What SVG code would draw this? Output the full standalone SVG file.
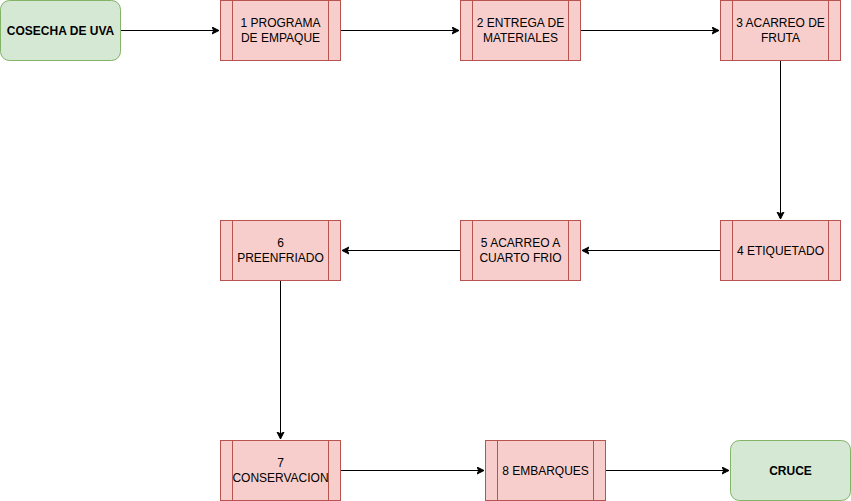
<svg xmlns="http://www.w3.org/2000/svg" width="851" height="501" viewBox="0 0 851 501">
<defs>
<style>
.g{fill:#d5e8d4;stroke:#82b366;stroke-width:1}
.r{fill:#f8cecc;stroke:#b85450;stroke-width:1}
.t{font-family:"Liberation Sans",Arial,sans-serif;font-size:12px;fill:#000;text-anchor:middle}
.b{font-weight:bold}
.e{fill:none;stroke:#000;stroke-width:1}
</style>
<marker id="a" markerWidth="10" markerHeight="10" refX="7" refY="4" orient="auto" markerUnits="userSpaceOnUse">
<path d="M7,4 L0,0.5 L1.75,4 L0,7.5 Z" fill="#000" stroke="#000" stroke-width="1"/>
</marker>
</defs>
<g id="edges">
<path class="e" d="M120.5,30.5 H219" marker-end="url(#a)"/>
<path class="e" d="M340.5,30.5 H459" marker-end="url(#a)"/>
<path class="e" d="M580.5,30.5 H719" marker-end="url(#a)"/>
<path class="e" d="M780.5,60.5 V219" marker-end="url(#a)"/>
<path class="e" d="M720.5,250.5 H582" marker-end="url(#a)"/>
<path class="e" d="M460.5,250.5 H342" marker-end="url(#a)"/>
<path class="e" d="M280.5,280.5 V439" marker-end="url(#a)"/>
<path class="e" d="M340.5,470.5 H484" marker-end="url(#a)"/>
<path class="e" d="M605.5,470.5 H729" marker-end="url(#a)"/>
</g>
<g id="cosecha">
<rect class="g" x="0.5" y="0.5" width="120" height="60" rx="9"/>
<text class="t b" x="60.5" y="34.5">COSECHA DE UVA</text>
</g>
<g id="n1">
<rect class="r" x="220.5" y="0.5" width="120" height="60"/>
<path class="r" d="M232.5,0.5 V60.5 M328.5,0.5 V60.5"/>
<text class="t" x="280.5" y="27">1 PROGRAMA</text>
<text class="t" x="280.5" y="42">DE EMPAQUE</text>
</g>
<g id="n2">
<rect class="r" x="460.5" y="0.5" width="120" height="60"/>
<path class="r" d="M472.5,0.5 V60.5 M568.5,0.5 V60.5"/>
<text class="t" x="520.5" y="27">2 ENTREGA DE</text>
<text class="t" x="520.5" y="42">MATERIALES</text>
</g>
<g id="n3">
<rect class="r" x="720.5" y="0.5" width="120" height="60"/>
<path class="r" d="M732.5,0.5 V60.5 M828.5,0.5 V60.5"/>
<text class="t" x="780.5" y="27">3 ACARREO DE</text>
<text class="t" x="780.5" y="42">FRUTA</text>
</g>
<g id="n4">
<rect class="r" x="720.5" y="220.5" width="120" height="60"/>
<path class="r" d="M732.5,220.5 V280.5 M828.5,220.5 V280.5"/>
<text class="t" x="780.5" y="254.5">4 ETIQUETADO</text>
</g>
<g id="n5">
<rect class="r" x="460.5" y="220.5" width="120" height="60"/>
<path class="r" d="M472.5,220.5 V280.5 M568.5,220.5 V280.5"/>
<text class="t" x="520.5" y="247">5 ACARREO A</text>
<text class="t" x="520.5" y="262">CUARTO FRIO</text>
</g>
<g id="n6">
<rect class="r" x="220.5" y="220.5" width="120" height="60"/>
<path class="r" d="M232.5,220.5 V280.5 M328.5,220.5 V280.5"/>
<text class="t" x="280.5" y="247">6</text>
<text class="t" x="280.5" y="262">PREENFRIADO</text>
</g>
<g id="n7">
<rect class="r" x="220.5" y="440.5" width="120" height="60"/>
<path class="r" d="M232.5,440.5 V500.5 M328.5,440.5 V500.5"/>
<text class="t" x="280.5" y="467">7</text>
<text class="t" x="280.5" y="482">CONSERVACION</text>
</g>
<g id="n8">
<rect class="r" x="485.5" y="440.5" width="120" height="60"/>
<path class="r" d="M497.5,440.5 V500.5 M593.5,440.5 V500.5"/>
<text class="t" x="545.5" y="474.5">8 EMBARQUES</text>
</g>
<g id="cruce">
<rect class="g" x="730.5" y="440.5" width="120" height="60" rx="9"/>
<text class="t b" x="790.5" y="474.5">CRUCE</text>
</g>
</svg>
